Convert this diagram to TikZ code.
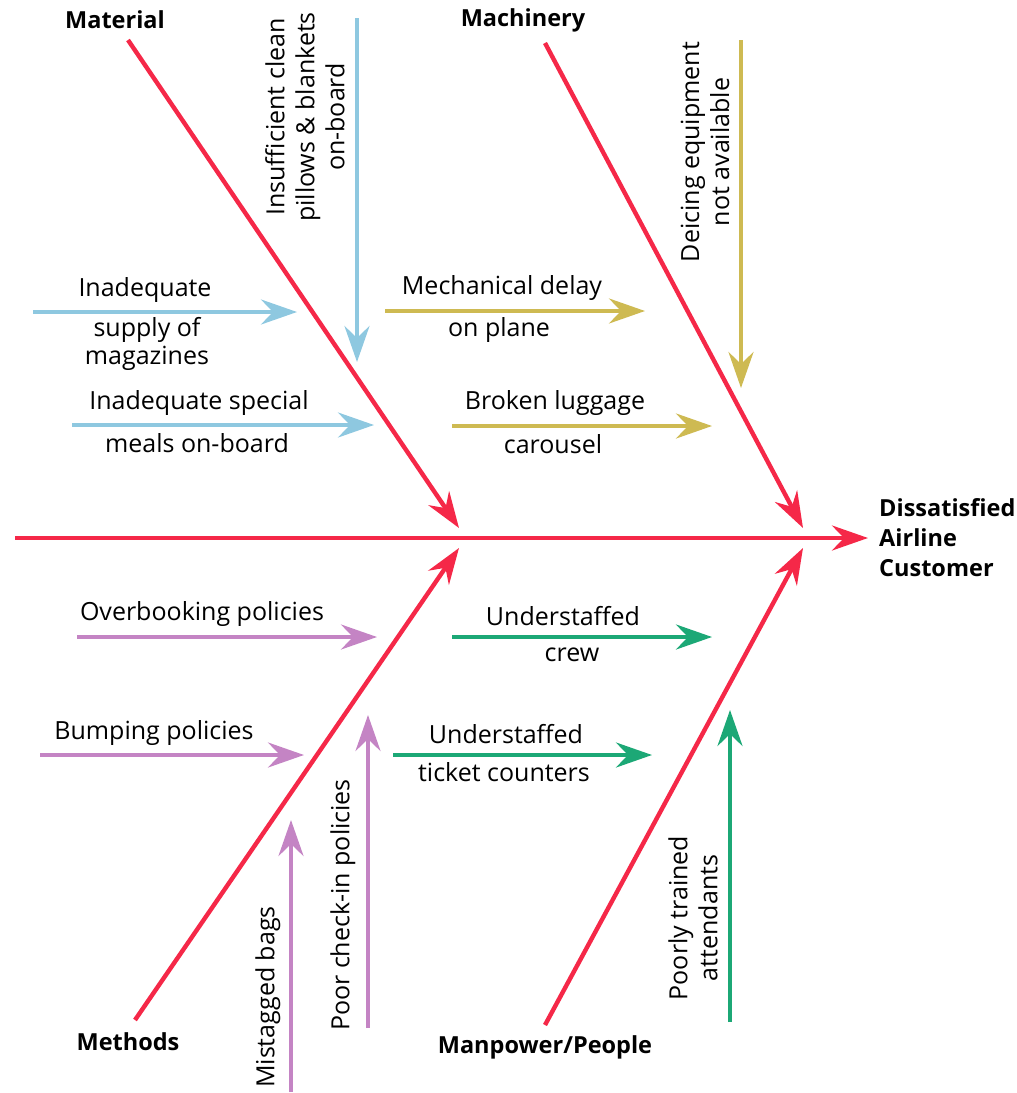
\documentclass[tikz,border=0pt]{standalone}
\usepackage{fontspec}
\setmainfont{Open Sans}
\usetikzlibrary{arrows.meta}
\definecolor{bonered}{RGB}{245,40,72}
\definecolor{matblue}{RGB}{142,200,224}
\definecolor{machgold}{RGB}{206,186,82}
\definecolor{methpurple}{RGB}{196,132,196}
\definecolor{mangreen}{RGB}{28,168,118}
\tikzset{
  tip/.style={-{Stealth[length=36,width=25,inset=12]}},
  bonearrow/.style={tip, draw=bonered, line width=4.4},
  cause/.style={tip, line width=4},
  txt/.style={inner sep=0, align=center, font=\fontsize{25}{30}\selectfont},
  cat/.style={inner sep=0, align=center, font=\fontsize{23.5}{30}\selectfont\bfseries},
}
\begin{document}
\begin{tikzpicture}[x=1pt,y=-1pt]
\useasboundingbox (0,0) rectangle (1017,1093);

% effect and spine
\node[cat, align=left, anchor=west] (effect) at (879,538) {Dissatisfied\\Airline\\Customer};
\coordinate (tail) at (15,538);
\coordinate (head) at (868,538);
\draw[bonearrow] (tail) -- (head);

% category labels
\node[cat] (material) at (115,20) {Material};
\node[cat] (machinery) at (523,20) {Machinery};
\node[cat] (methods) at (128,1042) {Methods};
\node[cat] (manpower) at (545,1047) {Manpower/People};

% main bones
\coordinate (matS) at (128,40);   \coordinate (matE) at (459,528);
\coordinate (macS) at (545,43);   \coordinate (macE) at (803,528);
\coordinate (metS) at (135,1020); \coordinate (metE) at (459,548);
\coordinate (manS) at (545,1025); \coordinate (manE) at (803,548);
\draw[bonearrow] (matS) -- (matE);
\draw[bonearrow] (macS) -- (macE);
\draw[bonearrow] (metS) -- (metE);
\draw[bonearrow] (manS) -- (manE);

% Material causes
\coordinate (m1a) at (33,312);  \coordinate (m1b) at (297,312);
\draw[cause, draw=matblue] (m1a) -- (m1b);
\node[txt] (m1t) at (145,290) {Inadequate};
\node[txt] (m1u) at (147,330) {supply of};
\node[txt] (m1v) at (147,358) {magazines};
\coordinate (m2a) at (72,425);  \coordinate (m2b) at (374,425);
\draw[cause, draw=matblue] (m2a) -- (m2b);
\node[txt] (m2t) at (199,403) {Inadequate special};
\node[txt] (m2u) at (197,443) {meals on-board};
\coordinate (m3a) at (357,18);  \coordinate (m3b) at (357,362);
\draw[cause, draw=matblue] (m3a) -- (m3b);
\node[txt, rotate=90] (m3t) at (305,117) {Insufficient clean\\pillows \& blankets\\on-board};

% Machinery causes
\coordinate (c1a) at (385,311); \coordinate (c1b) at (645,311);
\draw[cause, draw=machgold] (c1a) -- (c1b);
\node[txt] (c1t) at (502,288) {Mechanical delay};
\node[txt] (c1u) at (499,330) {on plane};
\coordinate (c2a) at (452,426); \coordinate (c2b) at (712,426);
\draw[cause, draw=machgold] (c2a) -- (c2b);
\node[txt] (c2t) at (555,403) {Broken luggage};
\node[txt] (c2u) at (553,444) {carousel};
\coordinate (c3a) at (741,40);  \coordinate (c3b) at (741,388);
\draw[cause, draw=machgold] (c3a) -- (c3b);
\node[txt, rotate=90] (c3t) at (705,152) {Deicing equipment\\not available};

% Methods causes
\coordinate (t1a) at (77,637);  \coordinate (t1b) at (377,637);
\draw[cause, draw=methpurple] (t1a) -- (t1b);
\node[txt] (t1t) at (202,614) {Overbooking policies};
\coordinate (t2a) at (40,755);  \coordinate (t2b) at (304,755);
\draw[cause, draw=methpurple] (t2a) -- (t2b);
\node[txt] (t2t) at (154,733) {Bumping policies};
\coordinate (t3a) at (291,1092); \coordinate (t3b) at (291,820);
\draw[cause, draw=methpurple] (t3a) -- (t3b);
\node[txt, rotate=90] (t3t) at (268,997) {Mistagged bags};
\coordinate (t4a) at (368,1028); \coordinate (t4b) at (368,715);
\draw[cause, draw=methpurple] (t4a) -- (t4b);
\node[txt, rotate=90] (t4t) at (343,905) {Poor check-in policies};

% Manpower causes
\coordinate (p1a) at (452,637); \coordinate (p1b) at (712,637);
\draw[cause, draw=mangreen] (p1a) -- (p1b);
\node[txt] (p1t) at (563,616) {Understaffed};
\node[txt] (p1u) at (572,655) {crew};
\coordinate (p2a) at (393,755); \coordinate (p2b) at (652,755);
\draw[cause, draw=mangreen] (p2a) -- (p2b);
\node[txt] (p2t) at (506,734) {Understaffed};
\node[txt] (p2u) at (504,772) {ticket counters};
\coordinate (p3a) at (730,1022); \coordinate (p3b) at (730,710);
\draw[cause, draw=mangreen] (p3a) -- (p3b);
\node[txt, rotate=90] (p3t) at (693,918) {Poorly trained\\attendants};
\end{tikzpicture}
\end{document}
